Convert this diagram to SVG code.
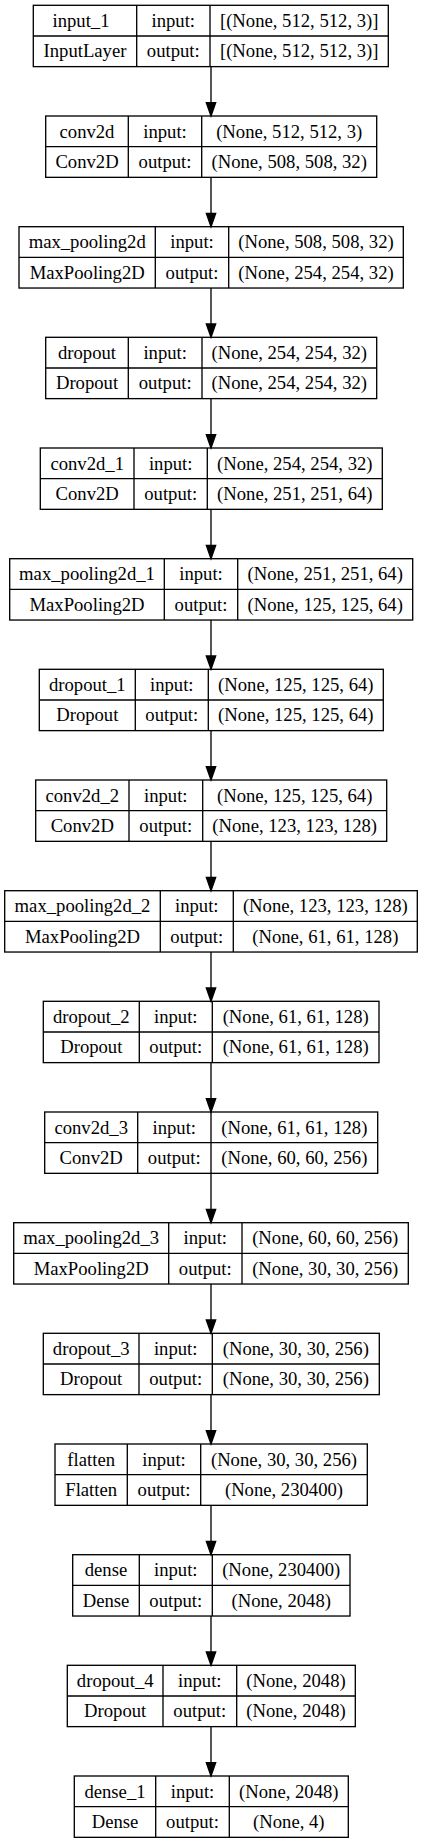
<svg xmlns="http://www.w3.org/2000/svg" width="423" height="1844" viewBox="0 0 423 1844">
<style>
.bx{fill:none;stroke:#000;stroke-width:1.33}
.t text{font-size:18.67px;fill:#000;text-anchor:middle}
.e{stroke:#000;stroke-width:1.33;fill:none}
.ah{fill:#000;stroke:#000;stroke-width:1.33}
</style>
<defs>
<polygon id="arrow" class="ah" points="-4.67,-13.33 0,0 4.67,-13.33"/>
</defs>
<rect width="423" height="1844" fill="#fff"/>
<g id="connectors">
<line class="e" x1="211" y1="66.7" x2="211" y2="102.7"/><use href="#arrow" x="211" y="116"/>
<line class="e" x1="211" y1="177.3" x2="211" y2="213.3"/><use href="#arrow" x="211" y="226.7"/>
<line class="e" x1="211" y1="288" x2="211" y2="324"/><use href="#arrow" x="211" y="337.3"/>
<line class="e" x1="211" y1="398.7" x2="211" y2="434.7"/><use href="#arrow" x="211" y="448"/>
<line class="e" x1="211" y1="509.3" x2="211" y2="545.3"/><use href="#arrow" x="211" y="558.7"/>
<line class="e" x1="211" y1="620" x2="211" y2="656"/><use href="#arrow" x="211" y="669.3"/>
<line class="e" x1="211" y1="730.7" x2="211" y2="766.7"/><use href="#arrow" x="211" y="780"/>
<line class="e" x1="211" y1="841.3" x2="211" y2="877.3"/><use href="#arrow" x="211" y="890.7"/>
<line class="e" x1="211" y1="952" x2="211" y2="988"/><use href="#arrow" x="211" y="1001.3"/>
<line class="e" x1="211" y1="1062.7" x2="211" y2="1098.7"/><use href="#arrow" x="211" y="1112"/>
<line class="e" x1="211" y1="1173.3" x2="211" y2="1209.3"/><use href="#arrow" x="211" y="1222.7"/>
<line class="e" x1="211" y1="1284" x2="211" y2="1320"/><use href="#arrow" x="211" y="1333.3"/>
<line class="e" x1="211" y1="1394.7" x2="211" y2="1430.7"/><use href="#arrow" x="211" y="1444"/>
<line class="e" x1="211" y1="1505.3" x2="211" y2="1541.3"/><use href="#arrow" x="211" y="1554.7"/>
<line class="e" x1="211" y1="1616" x2="211" y2="1652"/><use href="#arrow" x="211" y="1665.3"/>
<line class="e" x1="211" y1="1726.7" x2="211" y2="1762.7"/><use href="#arrow" x="211" y="1776"/>
</g>
<g class="t" font-family="'Liberation Serif', 'Times New Roman', 'DejaVu Serif', serif">
<g id="input_1" transform="translate(0,5.3)">
<rect class="bx" x="33.3" y="0" width="355" height="61.33"/>
<line class="bx" x1="33.3" y1="30.67" x2="388.3" y2="30.67"/>
<line class="bx" x1="136.7" y1="0" x2="136.7" y2="61.33"/><line class="bx" x1="210" y1="0" x2="210" y2="61.33"/>
<text x="81" y="21.5">input_1</text><text x="173.3" y="21.5">input:</text><text x="299.2" y="21.5">[(None, 512, 512, 3)]</text>
<text x="85" y="52.2">InputLayer</text><text x="173.3" y="52.2">output:</text><text x="299.2" y="52.2">[(None, 512, 512, 3)]</text>
</g>
<g id="conv2d" transform="translate(0,116)">
<rect class="bx" x="45.7" y="0" width="331" height="61.33"/>
<line class="bx" x1="45.7" y1="30.67" x2="376.7" y2="30.67"/>
<line class="bx" x1="128.3" y1="0" x2="128.3" y2="61.33"/><line class="bx" x1="201.7" y1="0" x2="201.7" y2="61.33"/>
<text x="87" y="21.5">conv2d</text><text x="165" y="21.5">input:</text><text x="289.2" y="21.5">(None, 512, 512, 3)</text>
<text x="87" y="52.2">Conv2D</text><text x="165" y="52.2">output:</text><text x="289.2" y="52.2">(None, 508, 508, 32)</text>
</g>
<g id="max_pooling2d" transform="translate(0,226.7)">
<rect class="bx" x="19" y="0" width="384.3" height="61.33"/>
<line class="bx" x1="19" y1="30.67" x2="403.3" y2="30.67"/>
<line class="bx" x1="155.3" y1="0" x2="155.3" y2="61.33"/><line class="bx" x1="228.7" y1="0" x2="228.7" y2="61.33"/>
<text x="87.2" y="21.5">max_pooling2d</text><text x="192" y="21.5">input:</text><text x="316" y="21.5">(None, 508, 508, 32)</text>
<text x="87.2" y="52.2">MaxPooling2D</text><text x="192" y="52.2">output:</text><text x="316" y="52.2">(None, 254, 254, 32)</text>
</g>
<g id="dropout" transform="translate(0,337.3)">
<rect class="bx" x="45.7" y="0" width="331" height="61.33"/>
<line class="bx" x1="45.7" y1="30.67" x2="376.7" y2="30.67"/>
<line class="bx" x1="128.3" y1="0" x2="128.3" y2="61.33"/><line class="bx" x1="202" y1="0" x2="202" y2="61.33"/>
<text x="87" y="21.5">dropout</text><text x="165.2" y="21.5">input:</text><text x="289.3" y="21.5">(None, 254, 254, 32)</text>
<text x="87" y="52.2">Dropout</text><text x="165.2" y="52.2">output:</text><text x="289.3" y="52.2">(None, 254, 254, 32)</text>
</g>
<g id="conv2d_1" transform="translate(0,448)">
<rect class="bx" x="40.3" y="0" width="342" height="61.33"/>
<line class="bx" x1="40.3" y1="30.67" x2="382.3" y2="30.67"/>
<line class="bx" x1="134" y1="0" x2="134" y2="61.33"/><line class="bx" x1="207.3" y1="0" x2="207.3" y2="61.33"/>
<text x="87.2" y="21.5">conv2d_1</text><text x="170.7" y="21.5">input:</text><text x="294.8" y="21.5">(None, 254, 254, 32)</text>
<text x="87.2" y="52.2">Conv2D</text><text x="170.7" y="52.2">output:</text><text x="294.8" y="52.2">(None, 251, 251, 64)</text>
</g>
<g id="max_pooling2d_1" transform="translate(0,558.7)">
<rect class="bx" x="9.7" y="0" width="403" height="61.33"/>
<line class="bx" x1="9.7" y1="30.67" x2="412.7" y2="30.67"/>
<line class="bx" x1="164.3" y1="0" x2="164.3" y2="61.33"/><line class="bx" x1="237.7" y1="0" x2="237.7" y2="61.33"/>
<text x="87" y="21.5">max_pooling2d_1</text><text x="201" y="21.5">input:</text><text x="325.2" y="21.5">(None, 251, 251, 64)</text>
<text x="87" y="52.2">MaxPooling2D</text><text x="201" y="52.2">output:</text><text x="325.2" y="52.2">(None, 125, 125, 64)</text>
</g>
<g id="dropout_1" transform="translate(0,669.3)">
<rect class="bx" x="39.3" y="0" width="344" height="61.33"/>
<line class="bx" x1="39.3" y1="30.67" x2="383.3" y2="30.67"/>
<line class="bx" x1="135.3" y1="0" x2="135.3" y2="61.33"/><line class="bx" x1="208.3" y1="0" x2="208.3" y2="61.33"/>
<text x="87.3" y="21.5">dropout_1</text><text x="171.8" y="21.5">input:</text><text x="295.8" y="21.5">(None, 125, 125, 64)</text>
<text x="87.3" y="52.2">Dropout</text><text x="171.8" y="52.2">output:</text><text x="295.8" y="52.2">(None, 125, 125, 64)</text>
</g>
<g id="conv2d_2" transform="translate(0,780)">
<rect class="bx" x="35.7" y="0" width="351" height="61.33"/>
<line class="bx" x1="35.7" y1="30.67" x2="386.7" y2="30.67"/>
<line class="bx" x1="129" y1="0" x2="129" y2="61.33"/><line class="bx" x1="202.7" y1="0" x2="202.7" y2="61.33"/>
<text x="82.3" y="21.5">conv2d_2</text><text x="165.8" y="21.5">input:</text><text x="294.7" y="21.5">(None, 125, 125, 64)</text>
<text x="82.3" y="52.2">Conv2D</text><text x="165.8" y="52.2">output:</text><text x="294.7" y="52.2">(None, 123, 123, 128)</text>
</g>
<g id="max_pooling2d_2" transform="translate(0,890.7)">
<rect class="bx" x="4.7" y="0" width="412.6" height="61.33"/>
<line class="bx" x1="4.7" y1="30.67" x2="417.3" y2="30.67"/>
<line class="bx" x1="160.3" y1="0" x2="160.3" y2="61.33"/><line class="bx" x1="233.3" y1="0" x2="233.3" y2="61.33"/>
<text x="82.5" y="21.5">max_pooling2d_2</text><text x="196.8" y="21.5">input:</text><text x="325.3" y="21.5">(None, 123, 123, 128)</text>
<text x="82.5" y="52.2">MaxPooling2D</text><text x="196.8" y="52.2">output:</text><text x="325.3" y="52.2">(None, 61, 61, 128)</text>
</g>
<g id="dropout_2" transform="translate(0,1001.3)">
<rect class="bx" x="43.3" y="0" width="335.7" height="61.33"/>
<line class="bx" x1="43.3" y1="30.67" x2="379" y2="30.67"/>
<line class="bx" x1="139.3" y1="0" x2="139.3" y2="61.33"/><line class="bx" x1="212.3" y1="0" x2="212.3" y2="61.33"/>
<text x="91.3" y="21.5">dropout_2</text><text x="175.8" y="21.5">input:</text><text x="295.7" y="21.5">(None, 61, 61, 128)</text>
<text x="91.3" y="52.2">Dropout</text><text x="175.8" y="52.2">output:</text><text x="295.7" y="52.2">(None, 61, 61, 128)</text>
</g>
<g id="conv2d_3" transform="translate(0,1112)">
<rect class="bx" x="44.7" y="0" width="333" height="61.33"/>
<line class="bx" x1="44.7" y1="30.67" x2="377.7" y2="30.67"/>
<line class="bx" x1="137.7" y1="0" x2="137.7" y2="61.33"/><line class="bx" x1="211" y1="0" x2="211" y2="61.33"/>
<text x="91.2" y="21.5">conv2d_3</text><text x="174.3" y="21.5">input:</text><text x="294.3" y="21.5">(None, 61, 61, 128)</text>
<text x="91.2" y="52.2">Conv2D</text><text x="174.3" y="52.2">output:</text><text x="294.3" y="52.2">(None, 60, 60, 256)</text>
</g>
<g id="max_pooling2d_3" transform="translate(0,1222.7)">
<rect class="bx" x="13.7" y="0" width="394.6" height="61.33"/>
<line class="bx" x1="13.7" y1="30.67" x2="408.3" y2="30.67"/>
<line class="bx" x1="168.7" y1="0" x2="168.7" y2="61.33"/><line class="bx" x1="242" y1="0" x2="242" y2="61.33"/>
<text x="91.2" y="21.5">max_pooling2d_3</text><text x="205.3" y="21.5">input:</text><text x="325.2" y="21.5">(None, 60, 60, 256)</text>
<text x="91.2" y="52.2">MaxPooling2D</text><text x="205.3" y="52.2">output:</text><text x="325.2" y="52.2">(None, 30, 30, 256)</text>
</g>
<g id="dropout_3" transform="translate(0,1333.3)">
<rect class="bx" x="43.3" y="0" width="336" height="61.33"/>
<line class="bx" x1="43.3" y1="30.67" x2="379.3" y2="30.67"/>
<line class="bx" x1="139" y1="0" x2="139" y2="61.33"/><line class="bx" x1="212.3" y1="0" x2="212.3" y2="61.33"/>
<text x="91.2" y="21.5">dropout_3</text><text x="175.7" y="21.5">input:</text><text x="295.8" y="21.5">(None, 30, 30, 256)</text>
<text x="91.2" y="52.2">Dropout</text><text x="175.7" y="52.2">output:</text><text x="295.8" y="52.2">(None, 30, 30, 256)</text>
</g>
<g id="flatten" transform="translate(0,1444)">
<rect class="bx" x="55" y="0" width="312.3" height="61.33"/>
<line class="bx" x1="55" y1="30.67" x2="367.3" y2="30.67"/>
<line class="bx" x1="127.3" y1="0" x2="127.3" y2="61.33"/><line class="bx" x1="200.7" y1="0" x2="200.7" y2="61.33"/>
<text x="91.2" y="21.5">flatten</text><text x="164" y="21.5">input:</text><text x="284" y="21.5">(None, 30, 30, 256)</text>
<text x="91.2" y="52.2">Flatten</text><text x="164" y="52.2">output:</text><text x="284" y="52.2">(None, 230400)</text>
</g>
<g id="dense" transform="translate(0,1554.7)">
<rect class="bx" x="72.7" y="0" width="277.3" height="61.33"/>
<line class="bx" x1="72.7" y1="30.67" x2="350" y2="30.67"/>
<line class="bx" x1="139.3" y1="0" x2="139.3" y2="61.33"/><line class="bx" x1="212.3" y1="0" x2="212.3" y2="61.33"/>
<text x="106" y="21.5">dense</text><text x="175.8" y="21.5">input:</text><text x="281.2" y="21.5">(None, 230400)</text>
<text x="106" y="52.2">Dense</text><text x="175.8" y="52.2">output:</text><text x="281.2" y="52.2">(None, 2048)</text>
</g>
<g id="dropout_4" transform="translate(0,1665.3)">
<rect class="bx" x="67.3" y="0" width="288" height="61.33"/>
<line class="bx" x1="67.3" y1="30.67" x2="355.3" y2="30.67"/>
<line class="bx" x1="163" y1="0" x2="163" y2="61.33"/><line class="bx" x1="236.7" y1="0" x2="236.7" y2="61.33"/>
<text x="115.2" y="21.5">dropout_4</text><text x="199.8" y="21.5">input:</text><text x="296" y="21.5">(None, 2048)</text>
<text x="115.2" y="52.2">Dropout</text><text x="199.8" y="52.2">output:</text><text x="296" y="52.2">(None, 2048)</text>
</g>
<g id="dense_1" transform="translate(0,1776)">
<rect class="bx" x="74.3" y="0" width="274" height="61.33"/>
<line class="bx" x1="74.3" y1="30.67" x2="348.3" y2="30.67"/>
<line class="bx" x1="155.7" y1="0" x2="155.7" y2="61.33"/><line class="bx" x1="229.3" y1="0" x2="229.3" y2="61.33"/>
<text x="115" y="21.5">dense_1</text><text x="192.5" y="21.5">input:</text><text x="288.8" y="21.5">(None, 2048)</text>
<text x="115" y="52.2">Dense</text><text x="192.5" y="52.2">output:</text><text x="288.8" y="52.2">(None, 4)</text>
</g>
</g>
</svg>
